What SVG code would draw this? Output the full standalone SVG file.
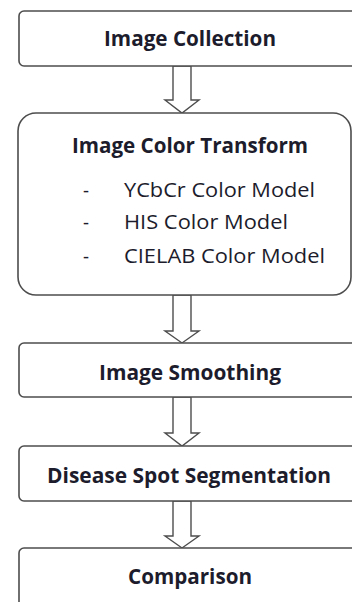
<svg xmlns="http://www.w3.org/2000/svg" width="352" height="602" viewBox="0 0 352 602">
  <style>
    .box { fill: #ffffff; stroke: #4d4d4d; stroke-width: 1.6; }
    .arrow { fill: #ffffff; stroke: #4d4d4d; stroke-width: 1.4; stroke-linejoin: miter; }
    .title { font-family: "Open Sans", "Liberation Sans", sans-serif; font-weight: bold; font-size: 20.5px; fill: #1c1c2c; text-anchor: middle; }
    .item { font-family: "Open Sans", "Liberation Sans", sans-serif; font-size: 20.5px; fill: #1c1c2c; }
  </style>
  <rect width="352" height="602" fill="#ffffff"/>

  <!-- hollow block arrows between the steps -->
  <g id="connectors">
    <path class="arrow" d="M 173 66 L 191 66 L 191 100 L 199 100 L 182 113 L 165 100 L 173 100 Z"/>
    <path class="arrow" d="M 173 295 L 191 295 L 191 331 L 199 331 L 182 343 L 165 331 L 173 331 Z"/>
    <path class="arrow" d="M 173 397 L 191 397 L 191 433 L 199 433 L 182 446 L 165 433 L 173 433 Z"/>
    <path class="arrow" d="M 173 501 L 191 501 L 191 536 L 199 536 L 182 548 L 165 536 L 173 536 Z"/>
  </g>

  <g id="image-collection">
    <rect class="box" x="19" y="11" width="342" height="55" rx="5"/>
    <text class="title" x="190" y="46" textLength="172" lengthAdjust="spacingAndGlyphs">Image Collection</text>
  </g>

  <g id="image-color-transform">
    <rect class="box" x="18" y="113" width="333" height="182" rx="18"/>
    <text class="title" x="190" y="153" textLength="236" lengthAdjust="spacingAndGlyphs">Image Color Transform</text>
    <g class="item">
      <text x="83" y="197" textLength="6" lengthAdjust="spacingAndGlyphs">-</text>
      <text x="124" y="197" textLength="191" lengthAdjust="spacingAndGlyphs">YCbCr Color Model</text>
      <text x="83" y="229" textLength="6" lengthAdjust="spacingAndGlyphs">-</text>
      <text x="124" y="229" textLength="164" lengthAdjust="spacingAndGlyphs">HIS Color Model</text>
      <text x="83" y="263" textLength="6" lengthAdjust="spacingAndGlyphs">-</text>
      <text x="124" y="263" textLength="201" lengthAdjust="spacingAndGlyphs">CIELAB Color Model</text>
    </g>
  </g>

  <g id="image-smoothing">
    <rect class="box" x="19" y="343" width="342" height="54" rx="5"/>
    <text class="title" x="190" y="380" textLength="182" lengthAdjust="spacingAndGlyphs">Image Smoothing</text>
  </g>

  <g id="disease-spot-segmentation">
    <rect class="box" x="19" y="446" width="342" height="55" rx="5"/>
    <text class="title" x="189" y="483" textLength="284" lengthAdjust="spacingAndGlyphs">Disease Spot Segmentation</text>
  </g>

  <g id="comparison">
    <rect class="box" x="19" y="548" width="342" height="62" rx="5"/>
    <text class="title" x="190" y="584" textLength="124" lengthAdjust="spacingAndGlyphs">Comparison</text>
  </g>
</svg>
